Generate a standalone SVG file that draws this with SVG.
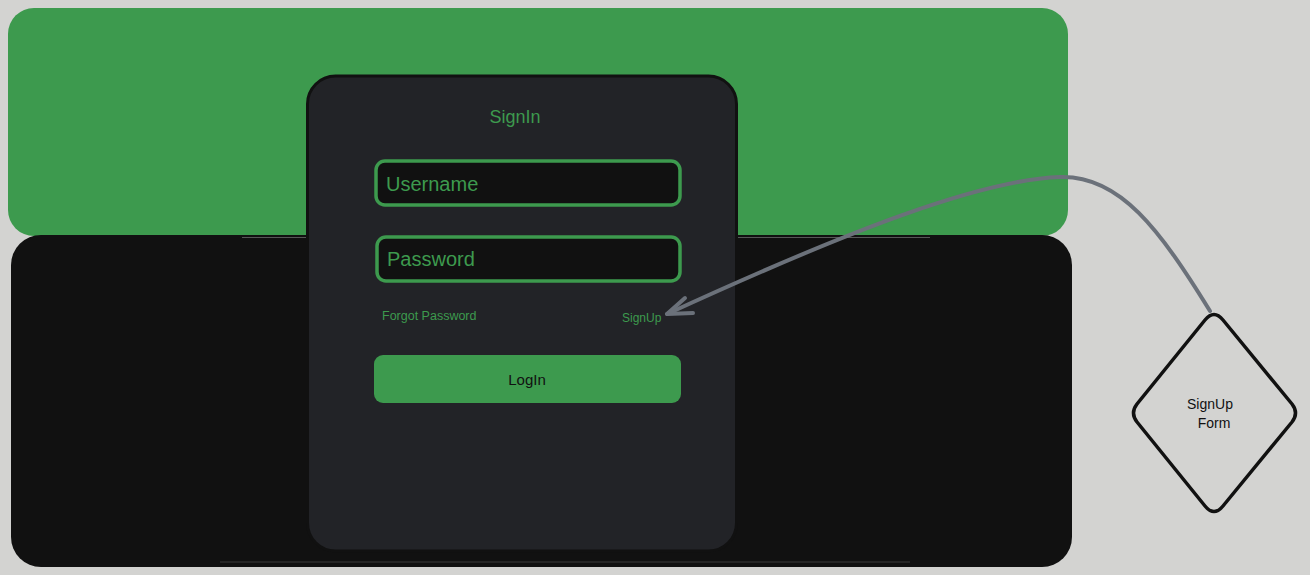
<svg xmlns="http://www.w3.org/2000/svg" width="1310" height="575" viewBox="0 0 1310 575">
  <defs>
    <style>
      .t { font-family: "Liberation Sans", Arial, sans-serif; }
      .green { fill: #3d9a4e; }
      .field { fill: #111111; stroke: #3d9a4e; stroke-width: 3.5; }
      .conn { fill: none; stroke: #6b717a; stroke-width: 4; stroke-linecap: round; stroke-linejoin: round; }
    </style>
  </defs>
  <rect x="0" y="0" width="1310" height="575" fill="#d3d3d1"/>

  <g id="bg-green">
    <rect x="8" y="8" width="1060" height="228" rx="26" fill="#3d9a4e"/>
  </g>
  <g id="bg-black">
    <rect x="11" y="235" width="1061" height="332" rx="30" fill="#111111"/>
    <line x1="242" y1="237.5" x2="930" y2="237.5" stroke="#6a6a6a" stroke-width="0.8"/>
    <line x1="220" y1="562" x2="910" y2="562" stroke="#444" stroke-width="0.8"/>
  </g>

  <g id="card">
    <rect x="307.5" y="76" width="429" height="475" rx="28" fill="#222327" stroke="#111111" stroke-width="3"/>
    <text class="t green" x="515" y="123" font-size="18" text-anchor="middle">SignIn</text>
  </g>

  <g id="username">
    <rect class="field" x="376" y="161" width="304" height="44" rx="9"/>
    <text class="t green" x="386" y="191" font-size="20">Username</text>
  </g>

  <g id="password">
    <rect class="field" x="377" y="237" width="303" height="44" rx="9"/>
    <text class="t green" x="387" y="266" font-size="20">Password</text>
  </g>

  <g id="forgot">
    <text class="t green" x="382" y="320" font-size="12.5">Forgot Password</text>
  </g>

  <g id="signup-link">
    <text class="t green" x="622" y="322" font-size="12">SignUp</text>
  </g>

  <g id="login">
    <rect x="374" y="355" width="307" height="48" rx="9" fill="#3d9a4e"/>
    <text class="t" x="527" y="385" font-size="15" text-anchor="middle" fill="#111111">LogIn</text>
  </g>

  <g id="signup-form">
    <path d="M1205 320 Q1214 309 1223 320 L1292 404 Q1299 413 1292 422 L1223 506 Q1214 517 1205 506 L1137 422 Q1130 413 1137 404 Z" fill="none" stroke="#111111" stroke-width="3.5" stroke-linejoin="round"/>
    <text class="t" x="1210" y="409" font-size="14" text-anchor="middle" fill="#111111">SignUp</text>
    <text class="t" x="1214" y="428" font-size="14" text-anchor="middle" fill="#111111">Form</text>
  </g>

  <g id="connectors">
    <path class="conn" d="M1210 311 C1160 230 1120 175 1060 177 C980 180 850 230 667 314"/>
    <path class="conn" d="M685 298 L667 314 L693 313"/>
  </g>
</svg>
